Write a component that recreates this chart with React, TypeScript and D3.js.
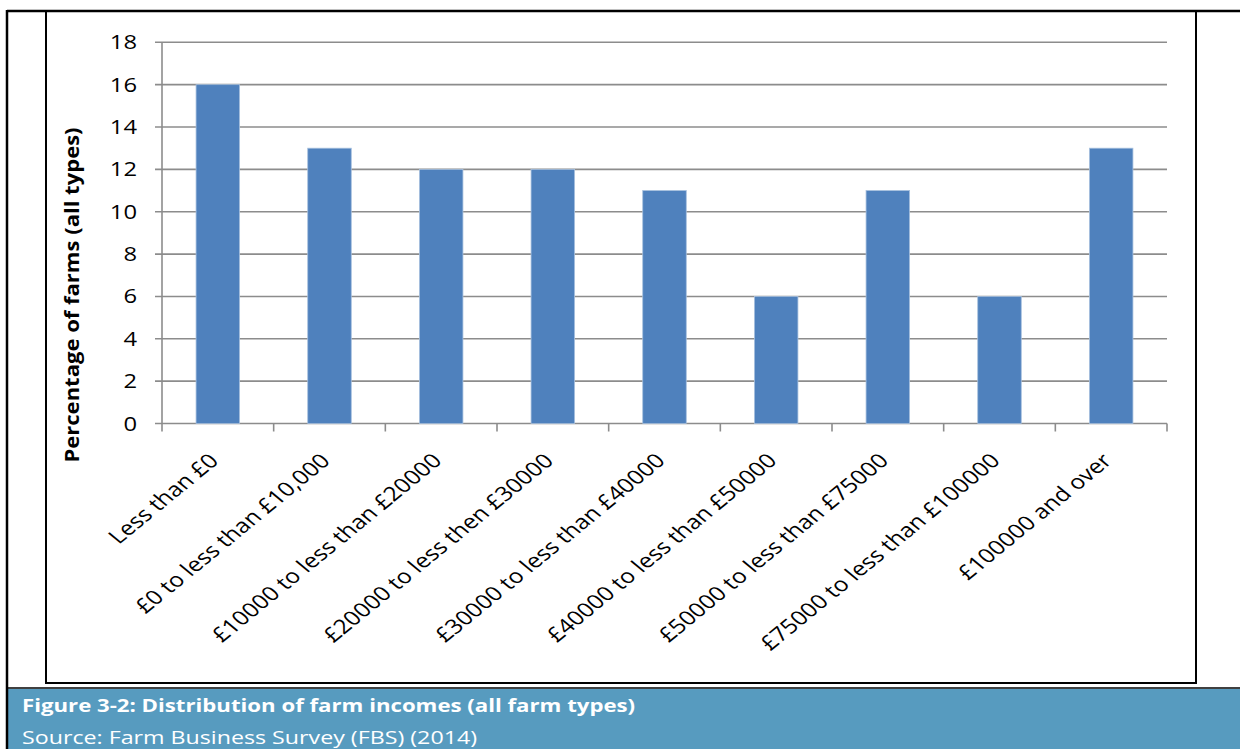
import React from "react";
import * as d3 from "d3";

const categories = [
  "Less than £0",
  "£0 to less than £10,000",
  "£10000 to less than £20000",
  "£20000 to less then £30000",
  "£30000 to less than £40000",
  "£40000 to less than £50000",
  "£50000 to less than £75000",
  "£75000 to less than £100000",
  "£100000 and over",
];
const values = [16, 13, 12, 12, 11, 6, 11, 6, 13];
const yTicks = [0, 2, 4, 6, 8, 10, 12, 14, 16, 18];
const yTitle = "Percentage of farms (all types)";
const captionTitle = "Figure 3-2: Distribution of farm incomes (all farm types)";
const captionSource = "Source: Farm Business Survey (FBS) (2014)";

const W = 1240;
const H = 749;
const FONT = "'Open Sans', Lato, sans-serif";
const SX = 1.22; // horizontal stretch seen in the reference

export default function App() {
  const plotL = 162;
  const plotR = 1167;
  const plotT = 42.3;
  const plotB = 423.5;
  const x = d3.scaleBand<string>().domain(categories).range([plotL, plotR]).paddingInner(0).paddingOuter(0);
  const y = d3.scaleLinear().domain([0, 18]).range([plotB, plotT]);
  const bw = x.bandwidth() * 0.39;
  const grid = "#8c8c8c";

  return (
    <svg width={W} height={H} style={{ position: "absolute", left: 0, top: 0, background: "#fff" }} fontFamily={FONT}>
      {/* caption band */}
      <rect x={8} y={689} width={W - 8} height={H - 689} fill="#579bbf" />
      {/* outer frame */}
      <line x1={7} y1={11} x2={W} y2={11} stroke="#000" strokeWidth={2.5} />
      <line x1={7} y1={10} x2={7} y2={H} stroke="#000" strokeWidth={2.5} />
      <line x1={7} y1={688} x2={W} y2={688} stroke="#000" strokeWidth={1.5} />
      {/* chart frame */}
      <rect x={46} y={11} width={1196 - 46} height={683 - 11} fill="none" stroke="#000" strokeWidth={2} />

      {/* gridlines */}
      {yTicks.map((t) => (
        <line key={"g" + t} x1={plotL - 7} x2={plotR} y1={y(t)} y2={y(t)} stroke={grid} strokeWidth={1.6} />
      ))}
      {/* y axis line */}
      <line x1={plotL} x2={plotL} y1={plotT} y2={plotB} stroke={grid} strokeWidth={1.6} />
      {/* x ticks */}
      {d3.range(categories.length + 1).map((i) => {
        const xx = plotL + i * x.step();
        return <line key={"xt" + i} x1={xx} x2={xx} y1={plotB} y2={plotB + 8} stroke={grid} strokeWidth={1.6} />;
      })}

      {/* bars */}
      {categories.map((c, i) => {
        const cx = (x(c) as number) + x.bandwidth() / 2;
        return (
          <rect
            key={c}
            x={cx - bw / 2}
            y={y(values[i])}
            width={bw}
            height={plotB - y(values[i])}
            fill="#4f81bd"
            stroke="#a7c0de"
            strokeWidth={0.8}
          />
        );
      })}

      {/* y tick labels */}
      {yTicks.map((t) => (
        <text
          key={"yl" + t}
          transform={`translate(137,${y(t)}) scale(${SX},1)`}
          dy="0.36em"
          textAnchor="end"
          fontSize={19.5}
          fill="#000"
        >
          {t}
        </text>
      ))}

      {/* y title */}
      <text
        transform={`translate(79,295) rotate(-90) scale(1.16,1)`}
        textAnchor="middle"
        fontSize={19}
        fontWeight="bold"
        fill="#000"
      >
        {yTitle}
      </text>

      {/* x labels */}
      {categories.map((c) => {
        const cx = (x(c) as number) + x.bandwidth() / 2 + 2;
        return (
          <text
            key={"xl" + c}
            transform={`translate(${cx},${plotB + 38.5}) scale(${SX},1) rotate(-45)`}
            textAnchor="end"
            fontSize={20.1}
            fill="#000"
          >
            {c}
          </text>
        );
      })}

      {/* caption */}
      <text transform={`translate(22,712) scale(1.2,1)`} fontSize={18.5} fontWeight="bold" fill="#fff">
        {captionTitle}
      </text>
      <text transform={`translate(22,744) scale(1.255,1)`} fontSize={18.5} fill="#fff">
        {captionSource}
      </text>
    </svg>
  );
}
